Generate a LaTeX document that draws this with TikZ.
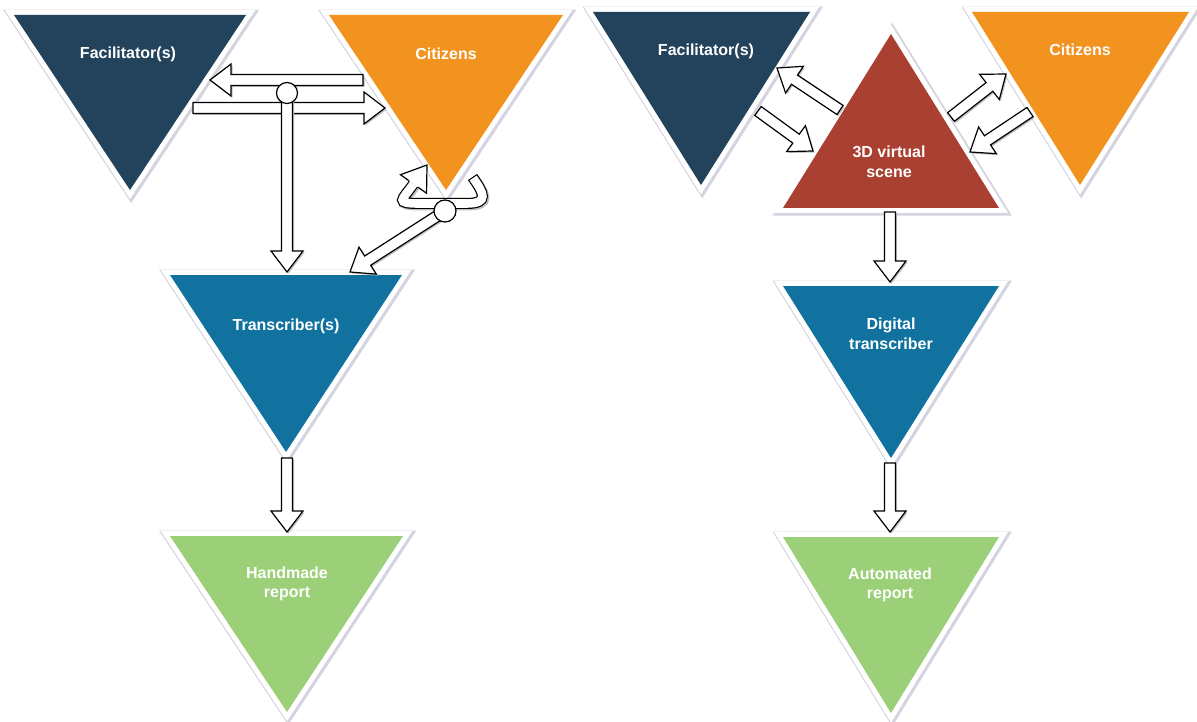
\documentclass[tikz,border=0pt]{standalone}
\usepackage{fontspec}
\setmainfont{Liberation Sans}
\usetikzlibrary{calc}
\definecolor{facblue}{HTML}{22435B}
\definecolor{citorange}{HTML}{F2931F}
\definecolor{trnblue}{HTML}{11729F}
\definecolor{repgreen}{HTML}{9BCF78}
\definecolor{scenered}{HTML}{AA4032}
\definecolor{shadowgrey}{HTML}{D4D4E0}
\newcommand{\arrw}{5.5pt}
\newcommand{\arrh}{16pt}
\newcommand{\arrl}{21pt}
% block arrow from #1 to #2
\newcommand{\barrow}[2]{%
  \draw[barrow] ($(#1)!\arrw!90:(#2)$) -- ($(#2)!\arrl!(#1)!\arrw!-90:(#1)$)
    -- ($(#2)!\arrl!(#1)!\arrh!-90:(#1)$) -- (#2) -- ($(#2)!\arrl!(#1)!\arrh!90:(#1)$)
    -- ($(#2)!\arrl!(#1)!\arrw!90:(#1)$) -- ($(#1)!\arrw!-90:(#2)$) -- cycle;}

\begin{document}
\begin{tikzpicture}[x=1pt, y=-1pt,
    tri/.style={fill=#1,
      preaction={draw=shadowgrey, line width=13pt, line join=miter, transform canvas={shift={(1.2pt,-1.2pt)}}},
      preaction={draw=white, line width=10pt, line join=miter}},
    lbl/.style={text=white, font=\bfseries\fontsize{16}{19.5}\selectfont, align=center, inner sep=0pt},
    barrow/.style={draw=black, fill=white, line width=1.2pt, line join=miter,
      preaction={fill=black!25, transform canvas={shift={(1.5pt,-1.5pt)}}}},
    headonly/.style={draw=black, fill=white, line width=1.2pt, line join=miter},
    joint/.style={draw=black, fill=white, line width=1.2pt}]
  \useasboundingbox (0,0) rectangle (1197,722);

  % manual process
  \path[tri=facblue] (14,15) -- (246,15) -- (130,190) -- cycle;
  \path[tri=citorange] (329,15) -- (563,15) -- (446,190) -- cycle;
  \path[tri=trnblue] (170,275) -- (402,275) -- (286,452) -- cycle;
  \path[tri=repgreen] (170,536) -- (403,536) -- (287,712) -- cycle;
  \node[lbl] (facL) at (128,54) {Facilitator(s)};
  \node[lbl] (citL) at (446,54) {Citizens};
  \node[lbl] (trnL) at (286,326) {Transcriber(s)};
  \node[lbl] (repL) at (287,584) {Handmade\\report};

  % digital process
  \path[tri=facblue] (593,12) -- (810,12) -- (701,185) -- cycle;
  \path[tri=citorange] (972,12) -- (1189,12) -- (1080,185) -- cycle;
  \path[tri=scenered] (891,34) -- (999,208) -- (783,208) -- cycle;
  \path[tri=trnblue] (783,286) -- (999,286) -- (891,458) -- cycle;
  \path[tri=repgreen] (783,537) -- (999,537) -- (891,713) -- cycle;
  \node[lbl] (facR) at (706,51) {Facilitator(s)};
  \node[lbl] (citR) at (1080,50) {Citizens};
  \node[lbl] (scene) at (889,162) {3D virtual\\scene};
  \node[lbl] (dtrR) at (891,334) {Digital\\transcriber};
  \node[lbl] (repR) at (890,585) {Automated\\report};

  % arrow ends
  \coordinate (cf1) at (363,80);   \coordinate (cf2) at (210,80);
  \coordinate (fc1) at (193,108);  \coordinate (fc2) at (385,108);
  \coordinate (jtop) at (287,93);  \coordinate (tv2) at (287,272);
  \coordinate (jcit) at (445,211); \coordinate (ct2) at (350,272);
  \coordinate (tr1) at (287,458);  \coordinate (tr2) at (287,532);
  \coordinate (loopT) at (472.5,177); \coordinate (loopR) at (466,203.5);
  \coordinate (loopL) at (420,203.5); \coordinate (loopH) at (413.5,184);
  \coordinate (loopTip) at (427,165);
  \coordinate (sf1) at (840,110);  \coordinate (sf2) at (777,68);
  \coordinate (fs1) at (758,111);  \coordinate (fs2) at (813,151);
  \coordinate (sc1) at (951,117);  \coordinate (sc2) at (1006,74);
  \coordinate (cs1) at (1030,112); \coordinate (cs2) at (970,152);
  \coordinate (sd1) at (890,212);  \coordinate (sd2) at (890,282);
  \coordinate (da1) at (890,463);  \coordinate (da2) at (890,532);

  \barrow{cf1}{cf2}
  \barrow{fc1}{fc2}
  \barrow{jtop}{tv2}
  \barrow{jcit}{ct2}
  \barrow{tr1}{tr2}
  % citizens talking among themselves
  \draw[line width=11pt, preaction={draw=black!25, line width=11pt, transform canvas={shift={(1.5pt,-1.5pt)}}}]
    (loopT) .. controls +(11,16) and +(24,0) .. (loopR) -- (loopL) .. controls +(-26,0) and +(-11.6,16.3) .. (loopH);
  \draw[white, line width=8.6pt, shorten <=1.2pt]
    (loopT) .. controls +(11,16) and +(24,0) .. (loopR) -- (loopL) .. controls +(-26,0) and +(-11.6,16.3) .. (loopH);
  \draw[headonly] ($(loopH)!\arrw!90:(loopTip)$) -- ($(loopH)!\arrh!90:(loopTip)$) -- (loopTip)
    -- ($(loopH)!\arrh!-90:(loopTip)$) -- ($(loopH)!\arrw!-90:(loopTip)$);
  \draw[joint] (jtop) circle[radius=10.5];
  \draw[joint] (jcit) circle[radius=11];

  \barrow{sf1}{sf2}
  \barrow{fs1}{fs2}
  \barrow{sc1}{sc2}
  \barrow{cs1}{cs2}
  \barrow{sd1}{sd2}
  \barrow{da1}{da2}
\end{tikzpicture}
\end{document}
